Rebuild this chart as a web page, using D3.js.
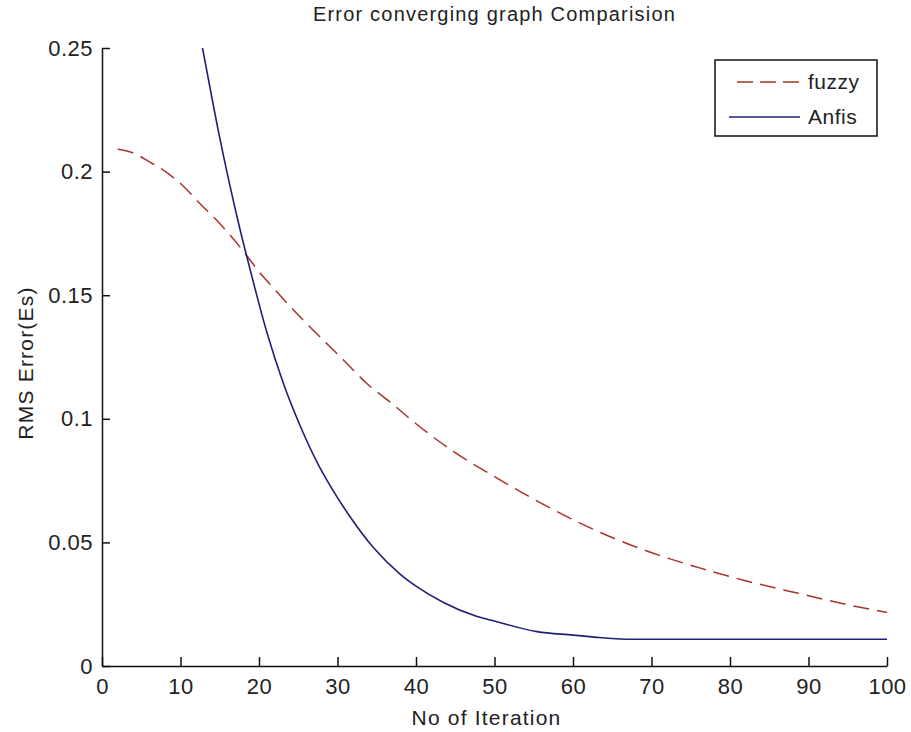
<!DOCTYPE html>
<html>
<head>
<meta charset="utf-8">
<script src="https://cdnjs.cloudflare.com/ajax/libs/d3/7.8.5/d3.min.js"></script>
<style>
  body { margin: 0; background: #fff; }
  text { font-family: "Liberation Sans", Arial, sans-serif; fill: #222; }
</style>
</head>
<body>
<div id="chart"></div>
<script>
// values
var fuzzyX = [2, 4, 6, 8.7, 10.4, 12.5, 15, 18.2, 20, 21.8, 25, 27.3, 30.7, 33.7, 37, 40, 44.8, 50, 56.4, 62.8, 69.4, 75.8, 82.1, 88.7, 95.1, 100];
var fuzzyY = [0.209, 0.2075, 0.204, 0.1986, 0.194, 0.187, 0.179, 0.167, 0.1595, 0.153, 0.142, 0.1346, 0.124, 0.1144, 0.106, 0.098, 0.0867, 0.0766, 0.0651, 0.055, 0.0465, 0.040, 0.0344, 0.0294, 0.0247, 0.0217];

var anfisX = [12, 12.8, 14.8, 17.6, 18.9, 21, 23.1, 25.2, 27.5, 29, 31.6, 34.6, 38, 40.1, 43.5, 47.7, 50.3, 55.4, 60, 63.4, 67.7, 80, 100];
var anfisY = [0.263, 0.25, 0.2168, 0.1764, 0.160, 0.135, 0.1144, 0.0975, 0.0818, 0.0733, 0.0604, 0.0478, 0.0371, 0.0321, 0.0257, 0.0201, 0.0179, 0.0139, 0.0125, 0.0115, 0.0108, 0.0108, 0.0108];

var xTicks = [0, 10, 20, 30, 40, 50, 60, 70, 80, 90, 100];
var yTicks = [0, 0.05, 0.1, 0.15, 0.2, 0.25];
var seriesNames = ["fuzzy", "Anfis"];

(function(){
  var width = 911,
      height = 732;
  var left = 102, right = 887, top = 48, bottom = 666;
  var fuzzyColor = "#a8332c",
      anfisColor = "#1f1f78";

  var svg = d3.select("#chart")
    .append("svg")
    .attr("width", width)
    .attr("height", height);

  var x = d3.scaleLinear().domain([0, 100]).range([left, right]);
  var y = d3.scaleLinear().domain([0, 0.25]).range([bottom, top]);

  svg.append("clipPath")
    .attr("id", "plotclip")
    .append("rect")
    .attr("x", left)
    .attr("y", top)
    .attr("width", right - left)
    .attr("height", bottom - top);

  var line = d3.line()
    .x(function(d){ return x(d[0]); })
    .y(function(d){ return y(d[1]); })
    .curve(d3.curveMonotoneX);

  var fuzzy = fuzzyX.map(function(v, i){ return [v, fuzzyY[i]]; });
  var anfis = anfisX.map(function(v, i){ return [v, anfisY[i]]; });

  var plot = svg.append("g").attr("clip-path", "url(#plotclip)");

  plot.append("path")
    .datum(fuzzy)
    .attr("d", line)
    .attr("fill", "none")
    .attr("stroke", fuzzyColor)
    .attr("stroke-width", 1.5)
    .attr("stroke-dasharray", "16,8");

  plot.append("path")
    .datum(anfis)
    .attr("d", line)
    .attr("fill", "none")
    .attr("stroke", anfisColor)
    .attr("stroke-width", 1.6);

  // axes, ticks pointing inside like matlab
  svg.append("g")
    .attr("transform", "translate(0," + bottom + ")")
    .call(d3.axisBottom(x).tickValues(xTicks).tickSizeInner(-9).tickSizeOuter(0).tickPadding(12));

  svg.append("g")
    .attr("transform", "translate(" + left + ",0)")
    .call(d3.axisLeft(y).tickValues(yTicks).tickSizeInner(-8).tickSizeOuter(0).tickPadding(9)
      .tickFormat(function(d){ return d === 0 ? "0" : String(+d.toFixed(2)); }));

  svg.selectAll(".domain").attr("stroke", "#111").attr("stroke-width", 1.5);
  svg.selectAll(".tick line").attr("stroke", "#111").attr("stroke-width", 1.5);
  svg.selectAll(".tick text")
    .style("font-size", "22px")
    .style("font-family", "Liberation Sans, Arial, sans-serif")
    .style("letter-spacing", "0.5px")
    .attr("fill", "#222");

  // title and labels
  svg.append("text")
    .attr("x", (left + right) / 2)
    .attr("y", 21)
    .attr("text-anchor", "middle")
    .style("font-size", "20px")
    .style("letter-spacing", "1.2px")
    .text("Error converging graph Comparision");

  svg.append("text")
    .attr("x", (left + right) / 2 - 8)
    .attr("y", 725)
    .attr("text-anchor", "middle")
    .style("font-size", "21px")
    .style("letter-spacing", "1.2px")
    .text("No of Iteration");

  svg.append("text")
    .attr("transform", "translate(33," + ((top + bottom) / 2 + 6) + ") rotate(-90)")
    .attr("text-anchor", "middle")
    .style("font-size", "21px")
    .style("letter-spacing", "1.2px")
    .text("RMS Error(Es)");

  // legend
  var legend = svg.append("g");
  legend.append("rect")
    .attr("x", 715)
    .attr("y", 60)
    .attr("width", 162)
    .attr("height", 76)
    .attr("fill", "#fff")
    .attr("stroke", "#111")
    .attr("stroke-width", 1.5);

  var rows = legend.selectAll(".row")
    .data(seriesNames)
    .enter().append("g")
    .attr("class", "row")
    .attr("transform", function(d, i){ return "translate(0," + (82 + i * 35) + ")"; });

  rows.append("line")
    .attr("x1", function(d, i){ return i === 0 ? 737 : 729; })
    .attr("x2", 800)
    .attr("y1", 0)
    .attr("y2", 0)
    .attr("stroke", function(d, i){ return i === 0 ? fuzzyColor : anfisColor; })
    .attr("stroke-width", 1.5)
    .attr("stroke-dasharray", function(d, i){ return i === 0 ? "16,7" : null; });

  rows.append("text")
    .attr("x", 808)
    .attr("y", 7)
    .style("font-size", "21px")
    .style("letter-spacing", "0.5px")
    .text(function(d){ return d; });
})();
</script>
</body>
</html>
